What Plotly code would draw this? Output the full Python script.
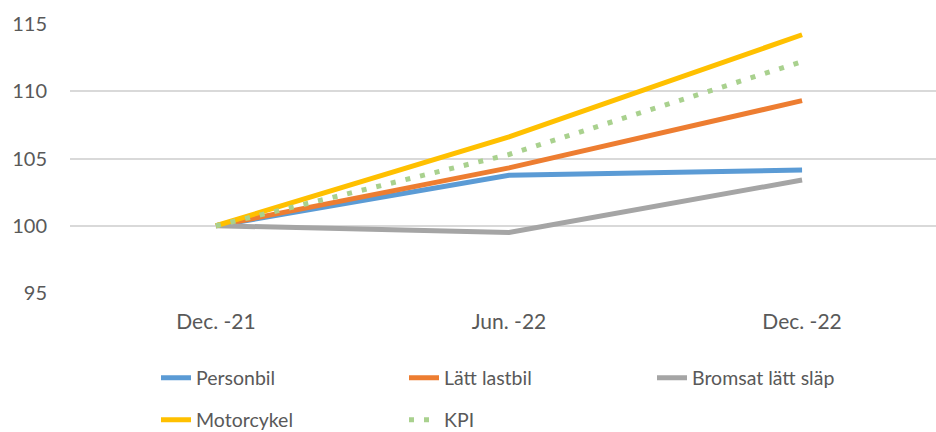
import plotly.graph_objects as go

categories = ["Dec. -21", "Jun. -22", "Dec. -22"]
personbil = [100, 103.75, 104.15]
latt_lastbil = [100, 104.3, 109.3]
bromsat = [100, 99.5, 103.4]
motorcykel = [100, 106.6, 114.2]
kpi = [100, 105.3, 112.2]
y_ticks = [95, 100, 105, 110, 115]

FONT = "Lato, Open Sans, sans-serif"
TXT = "#595959"

series = [
    ("Personbil", personbil, "#5B9BD5", "solid", "legend"),
    ("Lätt lastbil", latt_lastbil, "#ED7D31", "solid", "legend"),
    ("Bromsat lätt släp", bromsat, "#A5A5A5", "solid", "legend"),
    ("Motorcykel", motorcykel, "#FFC000", "solid", "legend2"),
    ("KPI", kpi, "#A9D18E", "5px,10px", "legend2"),
]

fig = go.Figure()
for name, vals, color, dash, leg in series:
    fig.add_trace(go.Scatter(
        x=[0, 1, 2], y=vals, name=name, mode="lines",
        line=dict(color=color, width=5, dash=dash),
        legend=leg,
    ))

legend_common = dict(
    orientation="h", xref="container", yref="container",
    xanchor="left", yanchor="middle",
    font=dict(family=FONT, size=19.5, color=TXT),
    entrywidth=203, entrywidthmode="pixels",
    bgcolor="rgba(0,0,0,0)", itemclick=False, tracegroupgap=0,
)

fig.update_layout(
    width=936, height=432,
    margin=dict(l=70, r=0, t=24, b=139),
    paper_bgcolor="white", plot_bgcolor="white",
    font=dict(family=FONT, color=TXT),
    showlegend=True,
    legend=dict(x=156 / 936, y=1 - 378 / 432, **legend_common),
    legend2=dict(x=156 / 936, y=1 - 420 / 432, **legend_common),
    xaxis=dict(
        range=[-0.498, 2.457], tickmode="array", tickvals=[0, 1, 2],
        ticktext=categories, showgrid=False, zeroline=False, showline=False,
        ticks="", tickfont=dict(family=FONT, size=21, color=TXT),
        ticklabelstandoff=14,
    ),
    yaxis=dict(
        range=[95, 115], tickvals=y_ticks, showgrid=True,
        gridcolor="#D9D9D9", gridwidth=1.5, zeroline=False, showline=False,
        ticks="", tickfont=dict(family=FONT, size=20, color=TXT),
        ticklabelstandoff=22,
    ),
)

fig.write_html("out.html")
